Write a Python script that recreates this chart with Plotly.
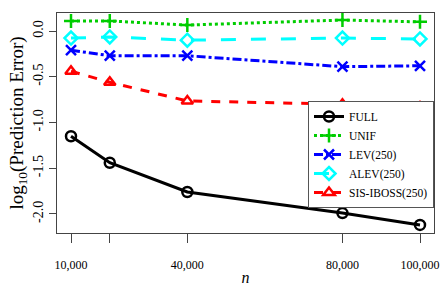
import plotly.graph_objects as go

n = [10000, 20000, 40000, 80000, 100000]
full = [-1.15, -1.44, -1.76, -1.99, -2.12]
unif = [0.11, 0.11, 0.065, 0.12, 0.10]
lev = [-0.21, -0.27, -0.27, -0.39, -0.38]
alev = [-0.077, -0.065, -0.10, -0.077, -0.087]
sis = [-0.44, -0.56, -0.765, -0.80, -0.83]

xtickvals = [10000, 20000, 40000, 80000, 100000]
xticktext = ["10,000", " ", "40,000", "80,000", "100,000"]
ytickvals = [0.0, -0.5, -1.0, -1.5, -2.0]
yticktext = ["0.0", "-0.5", "-1.0", "-1.5", "-2.0"]

series = [
    ("FULL", full, "black", "solid", "circle-open"),
    ("UNIF", unif, "#00CD00", "dot", "cross-thin-open"),
    ("LEV(250)", lev, "#0000FF", "dashdot", "x-thin-open"),
    ("ALEV(250)", alev, "#00FFFF", "longdash", "diamond-open"),
    ("SIS-IBOSS(250)", sis, "#FF0000", "dash", "triangle-up-open"),
]

fig = go.Figure()
for name, vals, col, dash, sym in series:
    fig.add_trace(go.Scatter(
        x=n, y=vals, name=name, mode="lines+markers",
        line=dict(color=col, width=3, dash=dash),
        marker=dict(symbol=sym, size=10, color=col, line=dict(color=col, width=2.5)),
    ))

font = "Liberation Serif"
fig.update_layout(
    width=443, height=288,
    margin=dict(l=57, r=9, t=13, b=55),
    plot_bgcolor="white", paper_bgcolor="white",
    font=dict(family=font, size=13, color="black"),
    showlegend=True,
    legend=dict(x=1, y=0.6, xanchor="right", yanchor="top",
                bordercolor="#555555", borderwidth=1, bgcolor="white",
                font=dict(size=11.5, family=font), tracegroupgap=0,
                itemwidth=30),
    xaxis=dict(range=[6390, 103610], tickvals=xtickvals, ticktext=xticktext,
               showgrid=False, zeroline=False, ticks="outside", ticklen=9,
               tickcolor="#444", showline=True, linecolor="#444", mirror=True,
               linewidth=1, tickfont=dict(size=12), ticklabelstandoff=12,
               automargin=False,
               title=dict(text="<i>n</i>", font=dict(size=16), standoff=0)),
    yaxis=dict(range=[-2.208, 0.197], tickvals=ytickvals, ticktext=yticktext,
               showgrid=False, zeroline=False, ticks="outside", ticklen=7,
               tickcolor="#444", showline=True, linecolor="#444", mirror=True,
               linewidth=1, tickangle=-90, tickfont=dict(size=14),
               automargin=False,
               title=dict(text="log<sub>10</sub>(Prediction Error)", font=dict(size=19), standoff=2)),
)
fig.write_html("out.html", config={"displayModeBar": False},
               post_script="document.body.style.margin='0';document.body.style.padding='0';")
